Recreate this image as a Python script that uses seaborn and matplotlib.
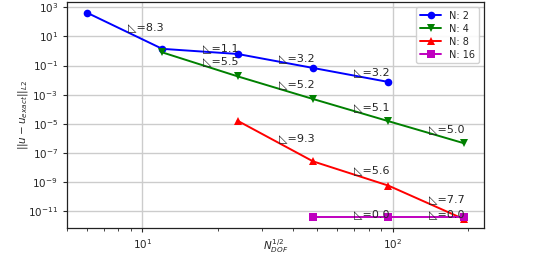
import numpy as np
import pandas as pd
import matplotlib
matplotlib.use("Agg")
import matplotlib.pyplot as plt
import seaborn as sns

# ================================
# DATA
# ================================
labels = ["N: 2", "N: 4", "N: 8", "N: 16"]

dof_n2 = [6, 12, 24, 48, 96]
err_n2 = [430, 1.4, 0.62, 0.068, 0.0074]
rate_n2 = [8.3, 1.1, 3.2, 3.2]

dof_n4 = [12, 24, 48, 96, 192]
err_n4 = [0.8, 0.018, 5.0e-4, 1.5e-5, 4.6e-7]
rate_n4 = [5.5, 5.2, 5.1, 5.0]

dof_n8 = [24, 48, 96, 192]
err_n8 = [1.6e-5, 2.6e-8, 5.6e-10, 2.8e-12]
rate_n8 = [9.3, 5.6, 7.7]

dof_n16 = [48, 96, 192]
err_n16 = [4.0e-12, 4.0e-12, 4.0e-12]
rate_n16 = [0.0, 0.0]

all_dof = [dof_n2, dof_n4, dof_n8, dof_n16]
all_err = [err_n2, err_n4, err_n8, err_n16]
all_rate = [rate_n2, rate_n4, rate_n8, rate_n16]

frames = []
for lab, d, e in zip(labels, all_dof, all_err):
    frames.append(pd.DataFrame({"dof": d, "err": e, "N": lab}))
df = pd.concat(frames, ignore_index=True)

# ================================
# PLOT
# ================================
sns.set_style("ticks")
plt.rcParams["font.family"] = ["DejaVu Sans"]
plt.rcParams["font.size"] = 7.5

fig = plt.figure(figsize=(5.38, 2.56), dpi=100)
ax = fig.add_axes([0.1245, 0.109, 0.775, 0.883])

sns.lineplot(data=df, x="dof", y="err", hue="N", style="N",
             markers=["o", "v", "^", "s"], dashes=False,
             palette=["b", "g", "r", "m"], ax=ax,
             linewidth=1.4, markersize=5.5, markeredgewidth=0)

ax.set_xscale("log")
ax.set_yscale("log")
ax.set_xlim(5.0, 231)
ax.set_ylim(10**-12.17, 10**3.36)
ax.set_yticks([10.0**p for p in range(3, -12, -2)])
ax.yaxis.set_minor_locator(matplotlib.ticker.NullLocator())
ax.grid(True, which="major", color="#cccccc", linewidth=1.0)
ax.tick_params(labelsize=7.5, length=3)
ax.tick_params(which="minor", length=2)
for s in ax.spines.values():
    s.set_color("#222222")
    s.set_linewidth(0.9)

# rate annotations at segment midpoints
for d, e, r in zip(all_dof, all_err, all_rate):
    for i in range(len(r)):
        xm = np.sqrt(d[i] * d[i + 1])
        ym = np.sqrt(e[i] * e[i + 1])
        ax.text(xm * 1.03, ym, "◺=%.1f" % r[i], fontsize=8,
                ha="left", va="baseline")

ax.set_xlabel("$N_{DOF}^{1/2}$", fontsize=7.5)
ax.set_ylabel("$||u-u_{exact}||_{L2}$", fontsize=7.5)
ax.xaxis.set_label_coords(0.5, -0.045)
ax.yaxis.set_label_coords(-0.088, 0.5)

ax.legend(loc="upper right", fontsize=7, handlelength=2.2,
          borderpad=0.4, labelspacing=0.3, framealpha=0.9)

fig.savefig("out.png", dpi=100)
